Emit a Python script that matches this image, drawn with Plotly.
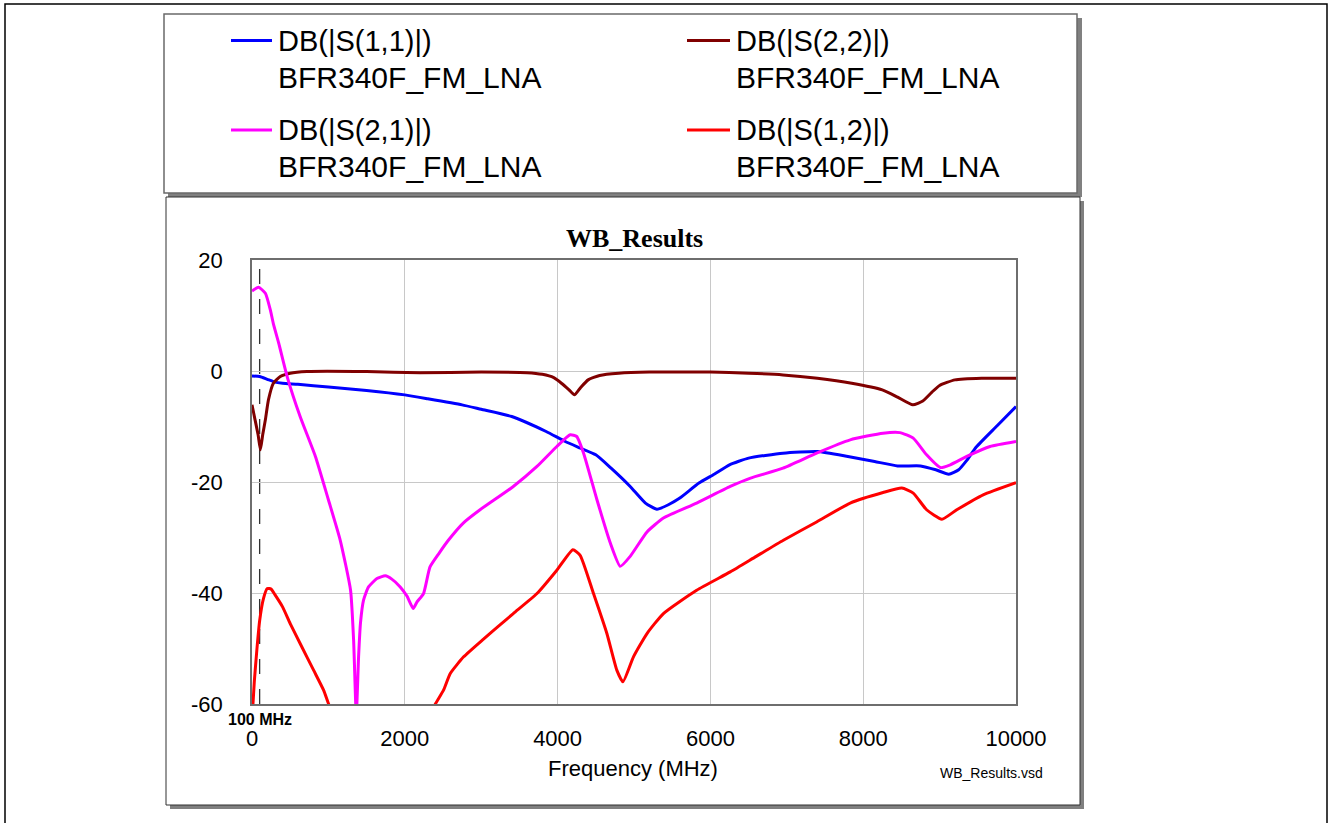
import plotly.graph_objects as go

# ---------------- data ----------------
s11_f = [0, 100, 200, 300, 400, 600, 1000, 1500, 2000, 2300, 2750, 3000, 3400, 3850, 4100, 4300,
         4500, 4700, 4950, 5150, 5300, 5450, 5600, 5850, 6050, 6250, 6500, 6950, 7400, 7800, 8150,
         8450, 8750, 8950, 9120, 9250, 9350, 9480, 9750, 10000]
s11_db = [-0.9, -1.0, -1.5, -2.0, -2.2, -2.4, -2.9, -3.5, -4.3, -5.0, -6.1, -6.9, -8.2, -10.9, -12.7, -13.9,
          -15.1, -17.5, -20.8, -23.8, -24.9, -24.1, -22.9, -20.2, -18.6, -16.9, -15.7, -14.8, -14.5, -15.4, -16.3,
          -17.1, -17.1, -17.8, -18.6, -17.8, -16.2, -13.7, -9.9, -6.4]

s22_f = [0, 40, 80, 110, 140, 175, 215, 280, 370, 500, 720, 1500, 2200, 3000, 3600, 3800, 3950, 4050,
         4150, 4220, 4300, 4400, 4550, 4800, 5200, 6000, 6500, 6950, 7400, 7850, 8250, 8450, 8650, 8780,
         8900, 9000, 9200, 9550, 10000]
s22_db = [-6.1, -8.8, -11.5, -14.2, -11.5, -8.8, -5.2, -2.2, -1.0, -0.4, -0.1, -0.1, -0.3, -0.2, -0.3, -0.6,
          -1.2, -2.2, -3.4, -4.3, -3.0, -1.6, -0.8, -0.4, -0.2, -0.2, -0.4, -0.7, -1.3, -2.2, -3.4, -4.7, -6.1,
          -5.4, -3.8, -2.6, -1.6, -1.3, -1.3]

s21_f = [0, 85, 175, 240, 280, 350, 460, 630, 830, 1000, 1155, 1290, 1330, 1365, 1395, 1420, 1460, 1525,
         1635, 1745, 1830, 1940, 2030, 2110, 2160, 2245, 2330, 2450, 2570, 2765, 2985, 3420, 3730, 3990,
         4165, 4250, 4340, 4515, 4690, 4820, 4950, 5170, 5385, 5820, 6260, 6525, 6950, 7390, 7830, 8260,
         8480, 8655, 8830, 9010, 9140, 9355, 9660, 10000]
s21_db = [14.4, 15.1, 14.0, 11.0, 8.5, 5.0, -1.0, -8.2, -15.4, -23.2, -30.5, -39.5, -48.5, -62.0, -51.5,
          -45.4, -41.3, -38.9, -37.4, -36.9, -37.5, -38.9, -40.6, -42.8, -41.6, -40.1, -35.3, -32.8, -30.5,
          -27.4, -25.0, -20.8, -17.2, -13.6, -11.5, -11.8, -14.8, -23.2, -31.0, -35.2, -33.4, -29.0, -26.5,
          -23.8, -20.8, -19.3, -17.5, -14.8, -12.4, -11.2, -11.1, -12.1, -15.1, -17.4, -16.9, -15.4, -13.6,
          -12.7]

s12_f = [0, 30, 65, 100, 150, 200, 250, 300, 400, 500, 630, 806, 937, 1003, 1100, 2300, 2400, 2507, 2595,
         2770, 3030, 3250, 3420, 3730, 3990, 4200, 4295, 4470, 4645, 4775, 4855, 4993, 5170, 5385, 5820,
         6260, 6600, 6955, 7390, 7830, 8260, 8505, 8655, 8830, 9030, 9225, 9570, 10000]
s12_db = [-63.0, -56.0, -50.0, -45.0, -41.0, -39.2, -39.3, -40.3, -42.5, -45.5, -49.1, -53.9, -57.5, -60.0,
          -63.0, -63.0, -60.0, -57.5, -54.5, -51.5, -48.3, -45.7, -43.7, -40.1, -35.9, -32.2, -33.2, -40.1,
          -47.3, -53.9, -56.0, -51.5, -47.3, -43.7, -39.5, -36.2, -33.4, -30.5, -27.2, -23.8, -21.9, -21.1,
          -22.0, -25.0, -26.7, -25.0, -22.3, -20.1]

x_ticks = [0, 2000, 4000, 6000, 8000, 10000]
y_ticks = [-60, -40, -20, 0, 20]
marker_freq = 100

series = [
    ("DB(|S(1,1)|)", "BFR340F_FM_LNA", s11_f, s11_db, "#0000ff"),
    ("DB(|S(2,2)|)", "BFR340F_FM_LNA", s22_f, s22_db, "#800000"),
    ("DB(|S(2,1)|)", "BFR340F_FM_LNA", s21_f, s21_db, "#ff00ff"),
    ("DB(|S(1,2)|)", "BFR340F_FM_LNA", s12_f, s12_db, "#ff0000"),
]

# ---------------- layout geometry ----------------
WIDTH, HEIGHT = 1330, 823
L, R, T, Bm = 252, 314, 260, 119
PW = WIDTH - L - R
PH = HEIGHT - T - Bm
BOT = HEIGHT - Bm


def px(x):
    return (x - L) / PW


def py(y):
    return (BOT - y) / PH


SANS = "Liberation Sans, Arial, sans-serif"
SERIF = "Liberation Serif, Times New Roman, serif"

fig = go.Figure()
for name, sub, f, v, c in series:
    fig.add_trace(go.Scatter(x=f, y=v, mode="lines",
                             line=dict(color=c, width=3, shape="spline", smoothing=0.5),
                             name=name, showlegend=False, hoverinfo="x+y"))

shapes = [
    # outer frame
    dict(type="rect", xref="paper", yref="paper", x0=px(5), x1=px(1327), y0=py(4), y1=py(845),
         line=dict(color="#000000", width=1.5), fillcolor="rgba(0,0,0,0)", layer="below"),
    # legend shadow + box
    dict(type="rect", xref="paper", yref="paper", x0=px(168), x1=px(1082), y0=py(18), y1=py(197),
         line=dict(width=0), fillcolor="#808080", layer="below"),
    dict(type="rect", xref="paper", yref="paper", x0=px(164), x1=px(1077), y0=py(14), y1=py(193),
         line=dict(color="#6a6a6a", width=1.5), fillcolor="#ffffff", layer="below"),
    # plot shadow + box
    dict(type="rect", xref="paper", yref="paper", x0=px(170), x1=px(1084), y0=py(201), y1=py(809),
         line=dict(width=0), fillcolor="#808080", layer="below"),
    dict(type="rect", xref="paper", yref="paper", x0=px(166), x1=px(1080), y0=py(197), y1=py(805),
         line=dict(color="#303030", width=1), fillcolor="#ffffff", layer="below"),
    # 100 MHz marker
    dict(type="line", xref="x", yref="paper", x0=marker_freq, x1=marker_freq, y0=0, y1=1,
         line=dict(color="#303030", width=1.3, dash="longdash"), layer="below"),
]

annotations = []
# legend entries
leg_pos = [(231, 272, 276, 40.5, 77), (687, 730, 734, 40.5, 77),
           (231, 272, 276, 130, 166.5), (687, 730, 734, 130, 166.5)]
for (name, sub, f, v, c), (lx0, lx1, tx, y1, y2) in zip(series, leg_pos):
    shapes.append(dict(type="line", xref="paper", yref="paper", x0=px(lx0), x1=px(lx1),
                       y0=py(y1), y1=py(y1), line=dict(color=c, width=3)))
    annotations.append(dict(xref="paper", yref="paper", x=px(tx), y=py(y1), text=name,
                            xanchor="left", yanchor="middle", showarrow=False,
                            font=dict(family=SANS, size=29, color="#000000")))
    annotations.append(dict(xref="paper", yref="paper", x=px(tx), y=py(y2), text=sub,
                            xanchor="left", yanchor="middle", showarrow=False,
                            font=dict(family=SANS, size=30, color="#000000")))

annotations += [
    dict(xref="paper", yref="paper", x=px(634), y=py(239), text="<b>WB_Results</b>",
         xanchor="center", yanchor="middle", showarrow=False,
         font=dict(family=SERIF, size=26, color="#000000")),
    dict(xref="paper", yref="paper", x=px(633), y=py(768), text="Frequency (MHz)",
         xanchor="center", yanchor="middle", showarrow=False,
         font=dict(family=SANS, size=22, color="#000000")),
    dict(xref="paper", yref="paper", x=px(991), y=py(773), text="WB_Results.vsd",
         xanchor="center", yanchor="middle", showarrow=False,
         font=dict(family=SANS, size=14, color="#000000")),
    dict(xref="x", yref="paper", x=marker_freq, y=py(719), text="<b>100 MHz</b>",
         xanchor="center", yanchor="middle", showarrow=False,
         font=dict(family=SANS, size=16, color="#000000")),
]

axis_common = dict(showgrid=True, gridcolor="#c8c8c8", gridwidth=1, zeroline=False,
                   showline=True, linecolor="#6e6e6e", linewidth=1.5, mirror=True,
                   ticks="outside", tickcolor="rgba(0,0,0,0)",
                   tickfont=dict(family=SANS, size=22, color="#000000"))

fig.update_layout(
    width=WIDTH, height=HEIGHT,
    margin=dict(l=L, r=R, t=T, b=Bm, pad=0),
    paper_bgcolor="#ffffff", plot_bgcolor="rgba(0,0,0,0)",
    xaxis=dict(range=[0, 10000], tickvals=x_ticks, ticktext=[str(t) for t in x_ticks],
               ticklen=14, **axis_common),
    yaxis=dict(range=[-60, 20], tickvals=y_ticks, ticktext=[str(t) for t in y_ticks],
               ticklen=23, **axis_common),
    shapes=shapes, annotations=annotations, showlegend=False,
)

fig.write_html("out.html")
